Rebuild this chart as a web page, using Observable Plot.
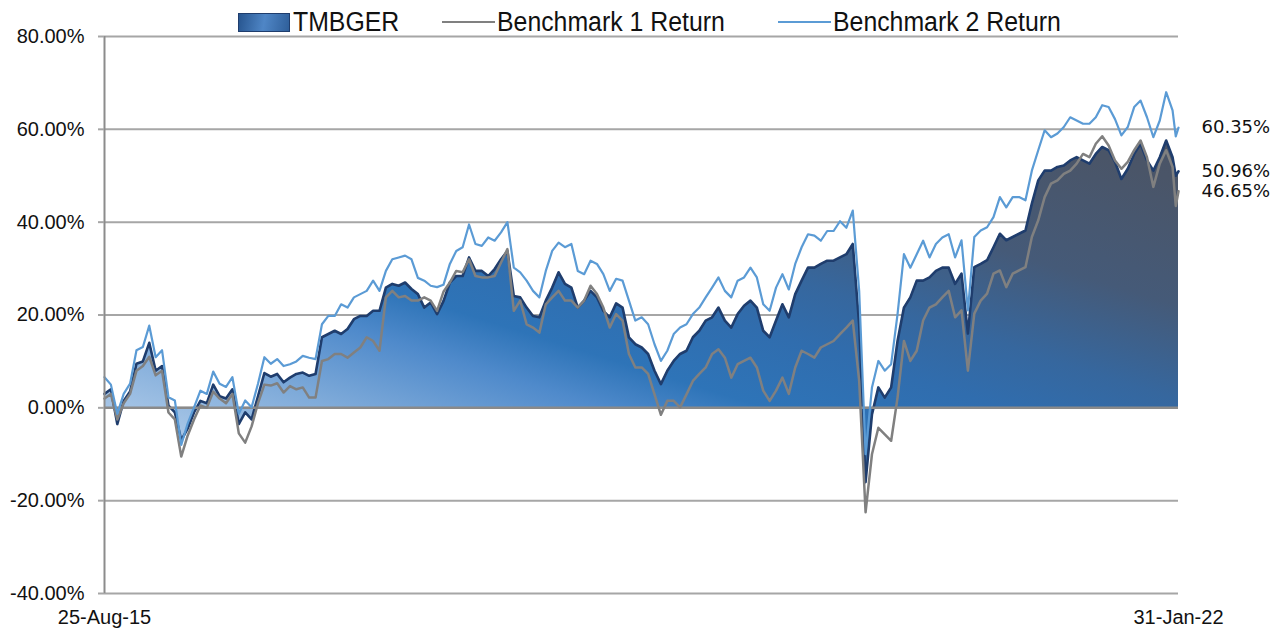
<!DOCTYPE html>
<html>
<head>
<meta charset="utf-8">
<script src="https://cdn.jsdelivr.net/npm/d3@7"></script>
<script src="https://cdn.jsdelivr.net/npm/@observablehq/plot@0.6"></script>
<style>
  html, body { margin: 0; padding: 0; background: #fff; }
  #wrap { position: relative; width: 1275px; height: 629px; overflow: hidden; }
  #legend { position: absolute; left: 0; top: 0; width: 1275px; height: 36px; z-index: 2;
            font-family: "Liberation Sans", Arial, sans-serif; font-size: 27px; color: #111; }
  .item { position: absolute; top: 0; height: 44px; display: flex; align-items: center; white-space: nowrap; }
  .item .lbl { display: inline-block; transform: scaleX(0.92); transform-origin: left center; }
  .sw-area { width: 50px; height: 17px; border: 1px solid #1f3d6d; margin-right: 3px;
             background: linear-gradient(100deg, #27558f 0%, #4f86c6 50%, #2f5f9a 100%); }
  .sw-line { width: 53px; height: 0; margin-right: 2px; }
</style>
</head>
<body>
<div id="wrap">
  <div id="legend"></div>
  <div id="chart"></div>
</div>
<script>
// ---- data (percent returns), sampled every two weeks from 25-Aug-15, last two points 25-Jan-22 and 31-Jan-22 ----
const seriesNames = ["TMBGER", "Benchmark 1 Return", "Benchmark 2 Return"];
const xTickLabels = ["25-Aug-15", "31-Jan-22"];
const yTicks = [-40, -20, 0, 20, 40, 60, 80];

const tmbger = [
  3.0, 4.0, -3.5, 1.5, 3.5, 9.5, 10.0, 14.0, 8.0, 9.0,
  0.5, -1.0, -7.0, -4.5, -1.0, 1.5, 1.0, 5.0, 2.5, 2.0,
  4.0, -3.5, -1.0, -2.5, 2.5, 7.5, 6.7, 7.3, 5.5, 6.5,
  7.3, 7.6, 6.9, 7.3, 15.2, 15.9, 16.6, 15.9, 17.0, 19.1,
  19.8, 19.8, 20.9, 20.9, 25.9, 26.7, 26.3, 27.0, 25.6, 24.5,
  21.6, 22.7, 20.2, 23.0, 27.0, 28.4, 28.4, 32.4, 29.5, 29.5,
  28.4, 29.9, 32.0, 33.8, 24.1, 23.8, 21.6, 19.8, 19.5, 23.1,
  25.9, 29.2, 26.7, 25.9, 21.6, 23.1, 25.2, 23.8, 20.9, 19.5,
  22.5, 21.6, 15.2, 13.7, 13.0, 11.6, 8.0, 5.1, 8.0, 10.1,
  11.6, 12.3, 15.2, 16.6, 18.8, 19.5, 21.6, 18.8, 17.3, 20.2,
  22.0, 23.1, 21.6, 16.6, 15.2, 18.8, 22.3, 19.5, 24.5, 27.4,
  30.2, 30.2, 31.0, 31.7, 31.7, 32.4, 33.1, 35.3, 18.0, -16.0,
  -1.4, 4.4, 2.2, 4.4, 14.4, 21.6, 23.8, 27.4, 27.4, 28.1,
  29.5, 30.2, 30.2, 26.7, 28.9, 16.0, 30.3, 31.0, 31.8, 34.6,
  37.5, 36.1, 36.8, 37.5, 38.2, 44.0, 49.0, 51.1, 51.1, 51.9,
  52.2, 53.3, 54.0, 53.3, 52.6, 54.7, 56.2, 55.5, 53.0, 49.3,
  51.5, 54.7, 56.9, 53.3, 51.1, 54.0, 57.6, 54.0, 50.0, 50.96
];

const bench1 = [
  2.0, 3.0, -2.5, 1.0, 3.0, 8.0, 9.0, 11.0, 7.0, 8.0,
  -1.0, -2.5, -10.5, -6.0, -2.5, 0.5, 0.0, 3.5, 2.0, 1.0,
  3.0, -5.5, -7.5, -4.0, 1.0, 5.0, 4.8, 5.3, 3.3, 4.7,
  4.0, 4.4, 2.2, 2.2, 10.1, 10.5, 11.6, 11.6, 10.8, 11.9,
  13.0, 15.2, 14.4, 12.3, 23.8, 25.2, 23.8, 24.1, 23.1, 23.1,
  23.8, 23.1, 20.9, 25.0, 27.0, 29.5, 29.2, 32.0, 28.4, 28.1,
  28.1, 28.4, 31.3, 34.2, 20.9, 23.1, 18.0, 17.3, 16.2, 22.3,
  23.8, 25.2, 23.1, 23.1, 21.6, 23.1, 26.3, 24.5, 21.6, 17.3,
  20.2, 18.8, 11.6, 8.7, 8.7, 7.3, 2.9, -1.5, 1.5, 1.5,
  0.1, 2.9, 5.8, 7.3, 8.7, 11.6, 12.6, 10.8, 6.5, 9.4,
  10.1, 10.8, 8.7, 3.7, 1.5, 3.7, 6.5, 3.0, 8.7, 12.3,
  11.6, 10.8, 13.0, 13.7, 14.4, 15.9, 17.3, 18.8, 5.8, -22.5,
  -10.0, -4.3, -5.7, -7.1, 2.2, 14.4, 10.1, 12.3, 18.8, 21.6,
  22.3, 23.8, 25.2, 19.5, 21.0, 8.0, 20.3, 23.1, 24.6, 28.9,
  29.6, 26.0, 28.9, 29.6, 30.3, 36.8, 40.4, 45.4, 48.3, 49.0,
  50.4, 51.1, 52.6, 54.7, 54.0, 56.9, 58.5, 56.5, 53.3, 51.5,
  53.0, 55.5, 57.6, 54.0, 47.6, 52.6, 55.5, 51.9, 43.5, 46.65
];

const bench2 = [
  6.6, 5.0, -1.3, 3.0, 5.2, 12.4, 13.1, 17.7, 10.9, 12.4,
  2.3, 1.6, -8.0, -3.4, 0.1, 3.7, 3.0, 7.8, 5.2, 4.5,
  6.6, -1.3, 1.6, 0.1, 5.2, 10.9, 9.5, 10.5, 9.0, 9.4,
  10.0, 11.2, 10.8, 10.5, 18.0, 19.8, 19.8, 22.3, 21.6, 23.8,
  24.5, 25.2, 27.4, 25.2, 29.5, 32.0, 32.4, 32.8, 32.0, 28.0,
  27.4, 26.3, 26.0, 26.5, 31.0, 33.8, 34.6, 39.5, 35.3, 34.9,
  36.7, 36.0, 37.8, 40.0, 30.2, 29.2, 27.4, 25.2, 23.8, 29.5,
  33.8, 35.6, 34.6, 35.3, 29.5, 28.8, 31.7, 31.0, 28.8, 25.2,
  27.8, 27.4, 23.1, 18.8, 19.5, 18.0, 13.7, 10.1, 12.3, 15.9,
  17.3, 18.0, 20.2, 21.6, 23.8, 25.9, 28.1, 25.2, 23.8, 27.4,
  28.1, 30.2, 28.1, 22.3, 20.9, 25.9, 28.8, 25.5, 31.0, 34.6,
  37.4, 37.1, 36.0, 38.1, 38.1, 40.2, 38.8, 42.5, 25.2, -10.0,
  4.4, 10.1, 8.0, 9.4, 20.2, 33.1, 30.2, 33.1, 36.0, 32.4,
  35.3, 36.7, 37.4, 32.4, 36.1, 21.0, 36.8, 38.2, 38.9, 41.1,
  45.4, 43.2, 45.4, 45.4, 44.7, 51.1, 55.5, 59.8, 58.3, 59.1,
  60.5, 62.6, 61.9, 61.2, 61.2, 62.6, 65.2, 64.8, 62.2, 58.7,
  60.5, 64.8, 66.2, 62.6, 58.3, 61.9, 68.0, 64.1, 58.5, 60.35
];

// ---- dates ----
const start = new Date(Date.UTC(2015, 7, 25));
const end = new Date(Date.UTC(2022, 0, 31));
const dates = d3.range(168).map(i => d3.utcDay.offset(start, 14 * i));
dates.push(new Date(Date.UTC(2022, 0, 25)), end);

const data = dates.map((d, i) => ({date: d, tmb: tmbger[i], b1: bench1[i], b2: bench2[i]}));
const last = data[data.length - 1];
const endLabels = [
  {date: last.date, v: last.b2},
  {date: last.date, v: last.tmb},
  {date: last.date, v: last.b1}
];

const colors = {tmb: "#1f3d6d", b1: "#808080", b2: "#5b9bd5"};

// ---- legend ----
const legend = document.getElementById("legend");
legend.innerHTML = `
  <div class="item" style="left:238px"><span class="sw-area"></span><span class="lbl">${seriesNames[0]}</span></div>
  <div class="item" style="left:442px"><span class="sw-line" style="border-top:2px solid ${colors.b1}"></span><span class="lbl">${seriesNames[1]}</span></div>
  <div class="item" style="left:778px"><span class="sw-line" style="border-top:2px solid ${colors.b2}"></span><span class="lbl">${seriesNames[2]}</span></div>`;

// ---- chart ----
const fmtX = d3.utcFormat("%d-%b-%y");
const chart = Plot.plot({
  width: 1275,
  height: 629,
  marginTop: 36,
  marginBottom: 36,
  marginLeft: 104,
  marginRight: 97,
  style: {fontFamily: "Liberation Sans, Arial, sans-serif", fontSize: "20px", color: "#111", background: "#fff", overflow: "visible"},
  x: {type: "utc", domain: [start, end]},
  y: {domain: [-40, 80]},
  marks: [
    Plot.gridY(yTicks, {stroke: "#a6a6a6", strokeOpacity: 1, strokeWidth: 2}),
    Plot.areaY(data, {x: "date", y: "tmb", fill: "url(#tmbFill)"}),
    Plot.lineY(data, {x: "date", y: "tmb", stroke: colors.tmb, strokeWidth: 2.6}),
    Plot.ruleY([0], {stroke: "#8a8a8a", strokeWidth: 2.5}),
    Plot.lineY(data, {x: "date", y: "b1", stroke: colors.b1, strokeWidth: 2.5}),
    Plot.lineY(data, {x: "date", y: "b2", stroke: colors.b2, strokeWidth: 2.2}),
    Plot.ruleX([start], {y1: -40, y2: 80, stroke: "#8c8c8c", strokeWidth: 2}),
    Plot.axisY({ticks: yTicks, tickFormat: d => d.toFixed(2) + "%", tickSize: 6, tickPadding: 14,
                stroke: "#a6a6a6", strokeWidth: 2, fontSize: 20}),
    Plot.axisX({ticks: [start, end], tickFormat: (d, i) => xTickLabels[i] ?? fmtX(d), tickSize: 0, tickPadding: 16, fontSize: 20}),
    Plot.text(endLabels, {x: "date", y: "v", text: d => d.v.toFixed(2) + "%", dx: 23, textAnchor: "start",
                          fontFamily: "DejaVu Sans", fontSize: 18, fill: "#111"})
  ]
});

// gradient for the TMBGER area (light at bottom-left, blue in the middle, slate at top-right)
const svg = d3.select(chart);
const grad = svg.insert("defs", ":first-child").append("linearGradient")
  .attr("id", "tmbFill").attr("gradientUnits", "userSpaceOnUse")
  .attr("x1", 104).attr("y1", 407).attr("x2", 282).attr("y2", -162);
[[0, "#a6c5e6"], [0.12, "#7eaad9"], [0.25, "#4f8acb"], [0.33, "#2e74b8"], [0.45, "#306dae"],
 [0.55, "#36679e"], [0.7, "#455a78"], [0.9, "#4a5568"], [1, "#4a5366"]].forEach(([o, c]) =>
  grad.append("stop").attr("offset", o).attr("stop-color", c));

document.getElementById("chart").appendChild(chart);
</script>
</body>
</html>
